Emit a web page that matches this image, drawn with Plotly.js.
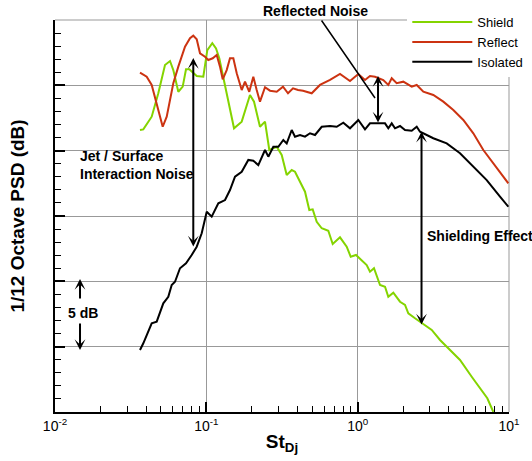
<!DOCTYPE html>
<html>
<head>
<meta charset="utf-8">
<script src="https://cdn.plot.ly/plotly-3.0.1.min.js"></script>
<style>html,body{margin:0;padding:0;background:#fff;}#chart{width:532px;height:461px;}</style>
</head>
<body>
<div id="chart"></div>
<script>
// Strouhal number St_Dj and 1/12-octave PSD (dB, relative scale)
const shieldSt = [0.03645,0.03833,0.04355,0.04815,0.05331,0.05754,0.0605,0.06529,0.0698,0.0734,0.07717,0.08639,0.0955,0.1015,0.1095,0.1159,0.1218,0.1363,0.1524,0.1713,0.1943,0.2066,0.2262,0.2442,0.2607,0.2918,0.3148,0.3397,0.3666,0.3854,0.4159,0.4488,0.4791,0.5045,0.5363,0.5787,0.6397,0.6841,0.7643,0.8464,0.8995,0.9751,1.147,1.206,1.282,1.405,1.516,1.594,1.720,1.905,2.055,2.161,2.393,2.65,3.086,3.501,3.972,4.746,5.67,6.433,7.191,7.877];
const shieldDb = [21.58,21.63,22.60,24.39,26.56,26.86,26.17,24.51,24.90,26.23,26.23,25.71,25.66,27.70,28.22,27.83,27.07,24.26,21.71,22.22,24.26,23.75,21.83,22.22,20.05,20.30,19.67,18.14,18.52,18.39,17.62,16.86,15.46,15.51,14.56,14.06,13.87,12.86,13.37,12.65,11.88,12.02,11.25,10.74,11.00,9.72,9.59,8.82,9.13,8.44,8.19,7.55,7.17,6.79,6.28,5.51,4.87,3.98,2.70,1.81,1.05,0.00];

const reflectSt = [0.03645,0.04036,0.04355,0.04699,0.04942,0.05149,0.05472,0.05754,0.0605,0.06529,0.07229,0.07799,0.082,0.08639,0.09084,0.098,0.1030,0.1102,0.1171,0.1231,0.1283,0.1363,0.1433,0.1508,0.1588,0.1713,0.1801,0.1922,0.2044,0.2152,0.2262,0.2442,0.2635,0.2918,0.3211,0.3465,0.3739,0.4035,0.4354,0.4970,0.5638,0.6567,0.7643,0.8899,1.010,1.118,1.206,1.302,1.477,1.594,1.679,1.811,2.003,2.276,2.456,2.716,3.161,3.681,4.286,4.990,5.810,6.766,7.877,9.898];
const reflectDb = [25.97,25.66,25.03,23.62,22.48,21.83,22.60,23.88,25.16,26.43,27.96,28.60,28.80,28.52,27.45,27.19,26.94,27.07,27.32,26.43,25.46,26.17,27.07,27.07,25.92,24.64,25.28,24.51,25.66,24.64,23.75,24.85,24.59,24.51,24.90,24.39,24.77,24.64,24.59,24.39,25.03,25.41,25.87,25.33,25.87,25.41,25.71,25.66,25.41,25.03,25.54,25.16,25.28,24.90,25.03,24.51,24.26,23.75,23.11,22.35,21.33,20.05,19.03,17.50];

const isoSt = [0.03645,0.03833,0.04355,0.04699,0.05196,0.05606,0.05904,0.06208,0.06699,0.0734,0.08003,0.08639,0.0932,0.1006,0.1085,0.12,0.1329,0.1433,0.1547,0.1713,0.1894,0.2044,0.2205,0.2442,0.2568,0.2771,0.299,0.3226,0.3397,0.3666,0.3854,0.4159,0.4488,0.4843,0.5226,0.5787,0.6567,0.7268,0.8038,0.8899,1.010,1.118,1.206,1.336,1.516,1.594,1.679,1.765,1.905,2.055,2.276,2.456,2.582,3.161,3.876,4.746,5.810,7.125,8.722,9.898];
const isoDb = [4.74,5.26,6.79,6.91,8.32,8.82,9.72,9.97,11.00,11.38,12.02,12.65,13.68,15.33,14.95,15.97,16.22,16.99,18.01,18.39,19.29,19.23,18.90,20.05,19.54,20.30,20.30,20.82,20.56,21.58,21.07,21.20,21.07,21.33,21.20,21.83,21.89,21.83,22.14,21.71,22.35,21.63,22.09,22.09,22.09,21.71,22.09,21.71,21.89,21.58,21.53,21.83,21.45,20.95,20.56,19.80,18.77,17.75,16.48,15.71];

const seriesNames = ['Shield', 'Reflect', 'Isolated'];
const xTickVals = [0.01, 0.1, 1, 10];
const xTickText = ['10<sup>-2</sup>', '10<sup>-1</sup>', '10<sup>0</sup>', '10<sup>1</sup>'];
const xMinorVals = [0.02,0.03,0.04,0.05,0.06,0.07,0.08,0.09,0.2,0.3,0.4,0.5,0.6,0.7,0.8,0.9,2,3,4,5,6,7,8,9];
const yTickVals = [0, 5, 10, 15, 20, 25, 30];

const FONT = 'Liberation Sans, Arial, Helvetica, sans-serif';
const lg = Math.log10;

const traces = [
  {x: shieldSt, y: shieldDb, name: seriesNames[0], mode: 'lines', line: {color: '#84d400', width: 2}},
  {x: reflectSt, y: reflectDb, name: seriesNames[1], mode: 'lines', line: {color: '#cc3311', width: 2}},
  {x: isoSt, y: isoDb, name: seriesNames[2], mode: 'lines', line: {color: '#000000', width: 2}}
];

function dblArrow(xv, y1, y2) {
  return {x: lg(xv), y: y1, ax: lg(xv), ay: y2, xref: 'x', yref: 'y', axref: 'x', ayref: 'y',
    text: '', showarrow: true, arrowhead: 3, startarrowhead: 3, arrowside: 'end+start',
    arrowsize: 0.9, startarrowsize: 0.9, arrowwidth: 2, arrowcolor: '#000'};
}
function oneArrow(xv, yHead, yTail) {
  return {x: lg(xv), y: yHead, ax: lg(xv), ay: yTail, xref: 'x', yref: 'y', axref: 'x', ayref: 'y',
    text: '', showarrow: true, arrowhead: 3, arrowsize: 0.9, arrowwidth: 2, arrowcolor: '#000'};
}
const lbl = {family: FONT, size: 14, color: '#000', weight: 'bold'};

const annotations = [
  // Reflected noise label with pointer line
  {x: lg(1.302), y: 24.03, xref: 'x', yref: 'y', text: '<b>Reflected Noise</b>', font: lbl,
   showarrow: true, arrowhead: 0, arrowwidth: 1.5, arrowcolor: '#000', axref: 'pixel', ayref: 'pixel', ax: -60, ay: -87},
  dblArrow(1.363, 25.71, 22.04),
  // Jet / surface interaction noise
  {x: 0.0507, y: 0.629, xref: 'paper', yref: 'paper', xanchor: 'left', yanchor: 'middle', align: 'left',
   text: '<b>Jet / Surface</b><br><b>Interaction Noise</b>', font: lbl, showarrow: false},
  dblArrow(0.082, 27.09, 12.55),
  // Shielding effect
  {x: 0.815, y: 0.449, xref: 'paper', yref: 'paper', xanchor: 'left', yanchor: 'middle', text: '<b>Shielding Effect</b>', font: lbl, showarrow: false},
  dblArrow(2.642, 21.45, 6.58),
  // 5 dB scale
  {x: 0.0617, y: 0.2518, xref: 'paper', yref: 'paper', xanchor: 'center', yanchor: 'middle', text: '<b>5 dB</b>', font: lbl, showarrow: false},
  oneArrow(0.01463, 10.18, 8.57),
  oneArrow(0.01463, 4.74, 6.89)
];

const layout = {
  width: 532, height: 461,
  margin: {l: 55, r: 23, t: 20, b: 49, pad: 0, autoexpand: false},
  paper_bgcolor: '#fff', plot_bgcolor: '#fff',
  font: {family: FONT, size: 13, color: '#000'},
  showlegend: true,
  legend: {x: 0.776, y: 1.033, xanchor: 'left', yanchor: 'top', bgcolor: '#fff', borderwidth: 0,
    font: {family: FONT, size: 13, color: '#000'}, itemwidth: 60, tracegroupgap: 0},
  xaxis: {
    type: 'log', range: [-2, 1], showline: true, linecolor: '#000', linewidth: 2,
    ticks: 'inside', ticklen: 10, tickwidth: 2, tickcolor: '#000',
    tickmode: 'array', tickvals: xTickVals, ticktext: xTickText,
    tickfont: {family: FONT, size: 14, color: '#000'}, ticklabelstandoff: 0,
    showgrid: true, gridcolor: '#999', gridwidth: 1, zeroline: false, automargin: false,
    minor: {tickmode: 'array', tickvals: xMinorVals, ticks: 'inside', ticklen: 6, tickwidth: 1, tickcolor: '#000', showgrid: false},
    title: {text: '<b>St<sub>Dj</sub></b>', font: {family: FONT, size: 19, color: '#000'}, standoff: 2}
  },
  yaxis: {
    range: [0, 30], showline: true, linecolor: '#000', linewidth: 2,
    ticks: 'inside', ticklen: 10, tickwidth: 2, tickcolor: '#000',
    tickmode: 'array', tickvals: yTickVals, showticklabels: false,
    showgrid: true, gridcolor: '#999', gridwidth: 1, zeroline: false, automargin: false,
    minor: {dtick: 1, tick0: 0, ticks: 'inside', ticklen: 6, tickwidth: 1, tickcolor: '#000', showgrid: false},
    title: {text: '<b>1/12 Octave PSD (dB)</b>', font: {family: FONT, size: 19, color: '#000'}, standoff: 23}
  },
  shapes: [
    {type: 'line', xref: 'paper', yref: 'paper', x0: 0, x1: 1, y0: 1, y1: 1, line: {color: '#999', width: 1}, layer: 'below'},
    {type: 'line', xref: 'paper', yref: 'paper', x0: 1, x1: 1, y0: 0, y1: 1, line: {color: '#999', width: 1}, layer: 'below'}
  ],
  annotations: annotations
};

Plotly.newPlot('chart', traces, layout, {displayModeBar: false, staticPlot: true});
</script>
</body>
</html>
